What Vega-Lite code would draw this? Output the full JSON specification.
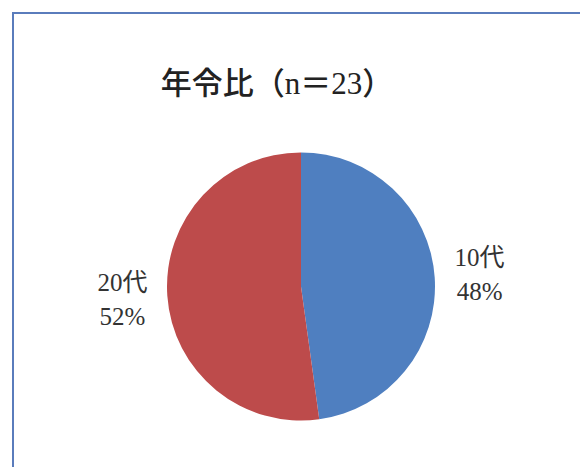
{
  "$schema": "https://vega.github.io/schema/vega-lite/v6.json",
  "autosize": "none",
  "width": 576,
  "height": 547,
  "padding": {"left": 13, "top": 13, "right": -9, "bottom": -93},
  "background": "#ffffff",
  "view": {"stroke": "#5a7cbc", "strokeWidth": 2},
  "config": {
    "view": {"stroke": "#5a7cbc", "strokeWidth": 2}
  },
  "title": {
    "text": "年令比（n＝23）",
    "font": "Liberation Serif, Noto Sans CJK JP",
    "fontSize": 31,
    "fontWeight": 500,
    "color": "#222222",
    "anchor": "middle",
    "frame": "group",
    "orient": "top",
    "baseline": "alphabetic",
    "offset": -112,
    "dx": -24
  },
  "data": {
    "values": [
      {"age": "10代", "count": 11, "pct": "48%"},
      {"age": "20代", "count": 12, "pct": "52%"}
    ]
  },
  "encoding": {
    "theta": {"field": "count", "type": "quantitative", "stack": true},
    "color": {
      "field": "age",
      "type": "nominal",
      "scale": {"domain": ["10代", "20代"], "range": ["#4f7fc0", "#bd4b4b"]},
      "legend": null
    },
    "order": {"field": "age", "type": "nominal", "sort": "ascending"}
  },
  "layer": [
    {"mark": {"type": "arc", "outerRadius": 134}},
    {
      "mark": {"type": "text", "radius": 179, "font": "Liberation Serif, Noto Sans CJK JP", "fontSize": 25, "dy": -16, "baseline": "middle", "align": "center", "color": "#333333"},
      "encoding": {"text": {"field": "age", "type": "nominal"}, "color": {"value": "#333333"}}
    },
    {
      "mark": {"type": "text", "radius": 179, "font": "Liberation Serif, Noto Sans CJK JP", "fontSize": 25, "dy": 18, "baseline": "middle", "align": "center", "color": "#333333"},
      "encoding": {"text": {"field": "pct", "type": "nominal"}, "color": {"value": "#333333"}}
    }
  ]
}
